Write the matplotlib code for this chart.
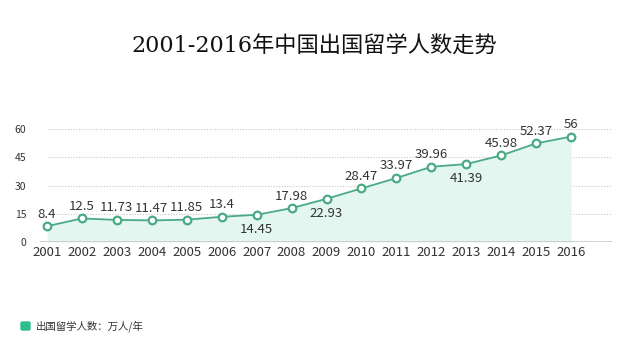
import matplotlib.pyplot as plt
import matplotlib.patches as mpatches
import numpy as np

plt.rcParams['font.family'] = ['Noto Sans CJK SC', 'DejaVu Sans']

years = [2001, 2002, 2003, 2004, 2005, 2006, 2007, 2008,
         2009, 2010, 2011, 2012, 2013, 2014, 2015, 2016]
students = [8.4, 12.5, 11.73, 11.47, 11.85, 13.4, 14.45, 17.98,
            22.93, 28.47, 33.97, 39.96, 41.39, 45.98, 52.37, 56]
below = [2007, 2009, 2013]  # labels drawn under the point
yticks = [0, 15, 30, 45, 60]

green = '#4aaa86'
fill = '#e3f6ef'

fig = plt.figure(figsize=(6.28, 3.39), dpi=100)
ax = fig.add_axes([40 / 628, 1 - 242 / 339, 572 / 628, 122 / 339])

ax.fill_between(years, students, 0, color=fill, lw=0, zorder=1)
ax.plot(years, students, color=green, lw=1.3, marker='o', ms=5.5,
        mfc='white', mec=green, mew=1.6, zorder=3)

for x, y in zip(years, students):
    lab = '{:g}'.format(y)
    if x in below:
        ax.annotate(lab, (x, y), xytext=(0, -6), textcoords='offset points',
                    ha='center', va='top', fontsize=9.5, color='#333333')
    else:
        ax.annotate(lab, (x, y), xytext=(0, 4), textcoords='offset points',
                    ha='center', va='bottom', fontsize=9.5, color='#333333')

ax.set_xlim(2000.8, 2017.17)
ax.set_ylim(0, 64.8)
ax.set_xticks(years)
ax.set_xticklabels([str(y) for y in years], fontsize=9.5, color='#333333')
ax.set_yticks(yticks)
ax.set_yticklabels([str(v) for v in yticks], fontsize=7.5, color='#333333')
ax.tick_params(length=0)
ax.tick_params(axis='x', pad=3)
ax.tick_params(axis='y', pad=10)

for v in yticks[1:]:
    ax.axhline(v, xmin=8 / 572, color='#c8c8c8', lw=0.8, ls=(0, (1, 1.5)), zorder=0)
ax.axhline(0, color='#c8c8c8', lw=1.2, zorder=2)

for s in ax.spines.values():
    s.set_visible(False)

fig.text(314 / 628, 1 - 47 / 339, '2001-2016年中国出国留学人数走势',
         ha='center', va='center', fontsize=16, color='#111111',
         family=['DejaVu Serif', 'Noto Sans CJK SC'])

fig.patches.append(mpatches.FancyBboxPatch(
    (21 / 628, 1 - 330 / 339), 9 / 628, 8 / 339,
    boxstyle='round,pad=0,rounding_size=0.003', transform=fig.transFigure,
    color='#2dbd8a', figure=fig))
fig.text(36 / 628, 1 - 326 / 339, '出国留学人数：万人/年', ha='left', va='center',
         fontsize=7.5, color='#333333')

fig.savefig('out.png', dpi=100, facecolor='white')
